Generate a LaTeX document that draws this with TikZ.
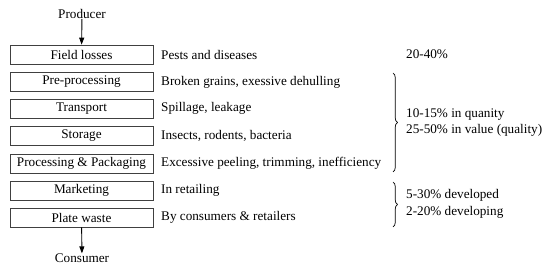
\documentclass[tikz,border=0pt]{standalone}
\usepackage{fontspec}
\setmainfont{Liberation Serif}
\usetikzlibrary{decorations.pathreplacing,arrows.meta}
\begin{document}
\begin{tikzpicture}[x=1pt,y=-1pt,
  txt/.style={font=\fontsize{13.2}{15}\selectfont},
  stagebox/.style={txt,draw=black!75,line width=0.7pt,minimum width=143pt,minimum height=19pt,inner sep=0pt},
  desc/.style={txt,anchor=west,inner sep=0pt},
  lbl/.style={txt,inner sep=0pt},
  flow/.style={-{Triangle[length=7pt,width=5pt]},line width=0.9pt},
  bracestyle/.style={decorate,decoration={brace,amplitude=4.5pt},line width=0.7pt}]
\useasboundingbox (0,0) rectangle (550,272);
\node[lbl] (prod) at (82,14) {Producer};
\node[stagebox] (s1) at (81.5,54.5) {Field losses};
\node[stagebox] (s2) at (81.5,82) {Pre-processing};
\node[stagebox] (s3) at (81.5,108.5) {Transport};
\node[stagebox] (s4) at (81.5,136) {Storage};
\node[stagebox] (s5) at (81.5,163.5) {Processing \& Packaging};
\node[stagebox] (s6) at (81.5,190.5) {Marketing};
\node[stagebox] (s7) at (81.5,217.5) {Plate waste};
\node[lbl] (cons) at (82,258) {Consumer};
\draw[flow] (prod) -- (s1);
\draw[flow] (s7) -- (cons);
\node[desc] (d1) at (161,54.5) {Pests and diseases};
\node[desc] (d2) at (161,82) {Broken grains, exessive dehulling};
\node[desc] (d3) at (161,108.5) {Spillage, leakage};
\node[desc] (d4) at (161,136) {Insects, rodents, bacteria};
\node[desc] (d5) at (161,163.5) {Excessive peeling, trimming, inefficiency};
\node[desc] (d6) at (161,190.5) {In retailing};
\node[desc] (d7) at (161,217.5) {By consumers \& retailers};
\node[desc] (r1) at (406,54) {20-40\%};
\coordinate (b1t) at (393,73);
\coordinate (b1b) at (393,172);
\draw[bracestyle] (b1t) -- (b1b);
\node[desc] (r2) at (406,115) {10-15\% in quanity};
\node[desc] (r3) at (406,130) {25-50\% in value (quality)};
\coordinate (b2t) at (393,182);
\coordinate (b2b) at (393,227);
\draw[bracestyle] (b2t) -- (b2b);
\node[desc] (r4) at (406,195) {5-30\% developed};
\node[desc] (r5) at (406,212) {2-20\% developing};
\end{tikzpicture}
\end{document}
